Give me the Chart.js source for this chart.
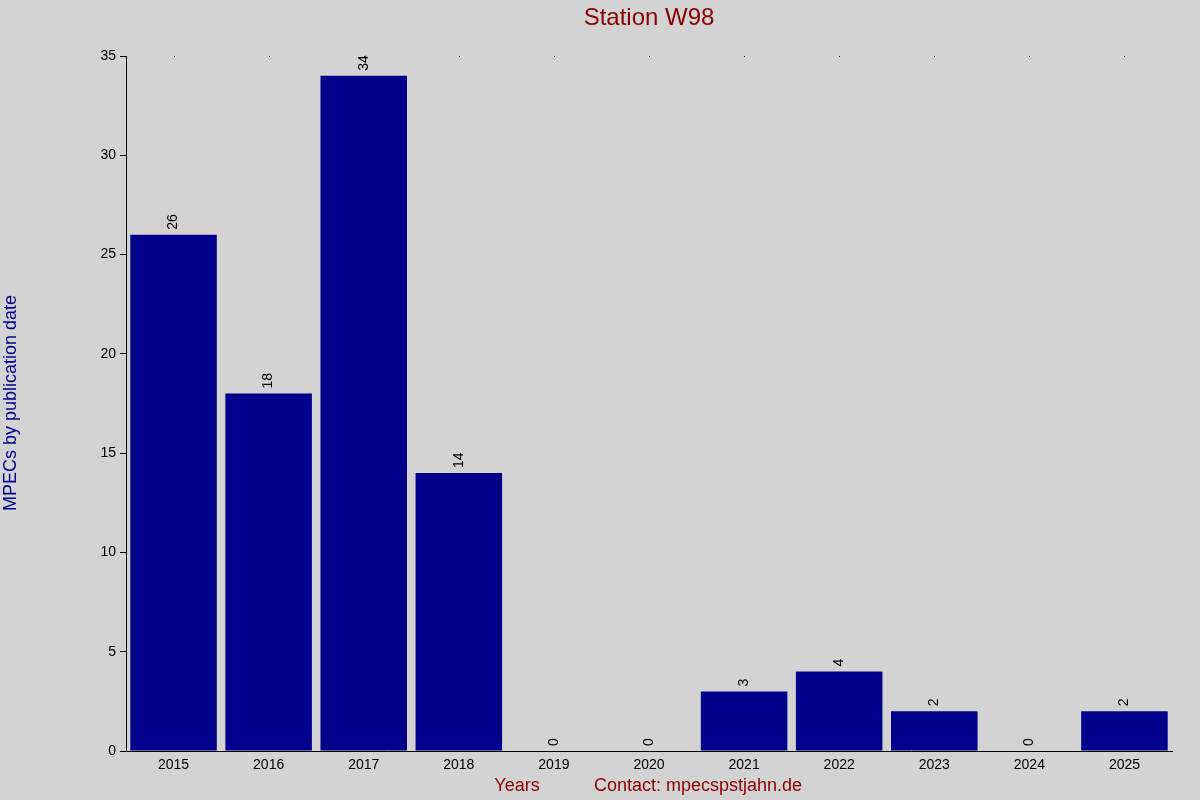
<!DOCTYPE html>
<html><head><meta charset="utf-8">
<script src="https://cdn.jsdelivr.net/npm/chart.js@4"></script>
<style>html,body{margin:0;padding:0;background:#d3d3d3}#w{width:1200px;height:800px}</style>
</head><body><div id="w"><canvas id="c"></canvas></div>
<script>
const years=['2015','2016','2017','2018','2019','2020','2021','2022','2023','2024','2025'];
const counts=[26,18,34,14,0,0,3,4,2,0,2];
const yTicks=[0,5,10,15,20,25,30,35];
const FONT='"Liberation Sans", Arial, sans-serif';
const deco={id:'deco',afterDatasetsDraw(ch){
  const c=ch.ctx,a=ch.chartArea,x=ch.scales.x,y=ch.scales.y;
  c.save();
  c.fillStyle='#000';
  years.forEach((_,i)=>{c.fillRect(Math.round(x.getPixelForValue(i)),a.top,1,1);});
  c.font='14px '+FONT;c.textAlign='left';c.textBaseline='middle';
  counts.forEach((v,i)=>{const px=x.getPixelForValue(i),py=y.getPixelForValue(v);
    c.save();c.translate(px,py-5);c.rotate(-Math.PI/2);c.fillText(String(v),0,0);c.restore();});
  c.fillStyle='#8b0000';c.textAlign='center';c.textBaseline='middle';
  c.font='24px '+FONT;c.fillText('Station W98',649,18);
  c.font='18px '+FONT;c.fillText('Years',517,786);c.fillText('Contact: mpecspstjahn.de',698,786);
  c.fillStyle='#00008b';c.save();c.translate(11,403);c.rotate(-Math.PI/2);c.fillText('MPECs by publication date',0,0);c.restore();
  c.restore();}};
new Chart(document.getElementById('c'),{type:'bar',
 data:{labels:years,datasets:[{data:counts,backgroundColor:'#00008b',categoryPercentage:0.91,barPercentage:1}]},
 options:{responsive:true,maintainAspectRatio:false,animation:false,
  layout:{padding:{top:56,right:28,left:0,bottom:0}},
  plugins:{legend:{display:false},tooltip:{enabled:false}},
  scales:{
   x:{grid:{display:false,drawTicks:false},border:{color:'#000'},ticks:{color:'#000',font:{family:FONT,size:14},padding:6},
      afterFit(s){s.height=49;}},
   y:{min:0,max:35,afterBuildTicks(s){s.ticks=yTicks.map(v=>({value:v}));},
      grid:{drawOnChartArea:false,tickLength:6,color:'#000'},border:{color:'#000'},
      ticks:{color:'#000',font:{family:FONT,size:14},padding:4},afterFit(s){s.width=126;}}
  }},plugins:[deco]});
</script></body></html>
